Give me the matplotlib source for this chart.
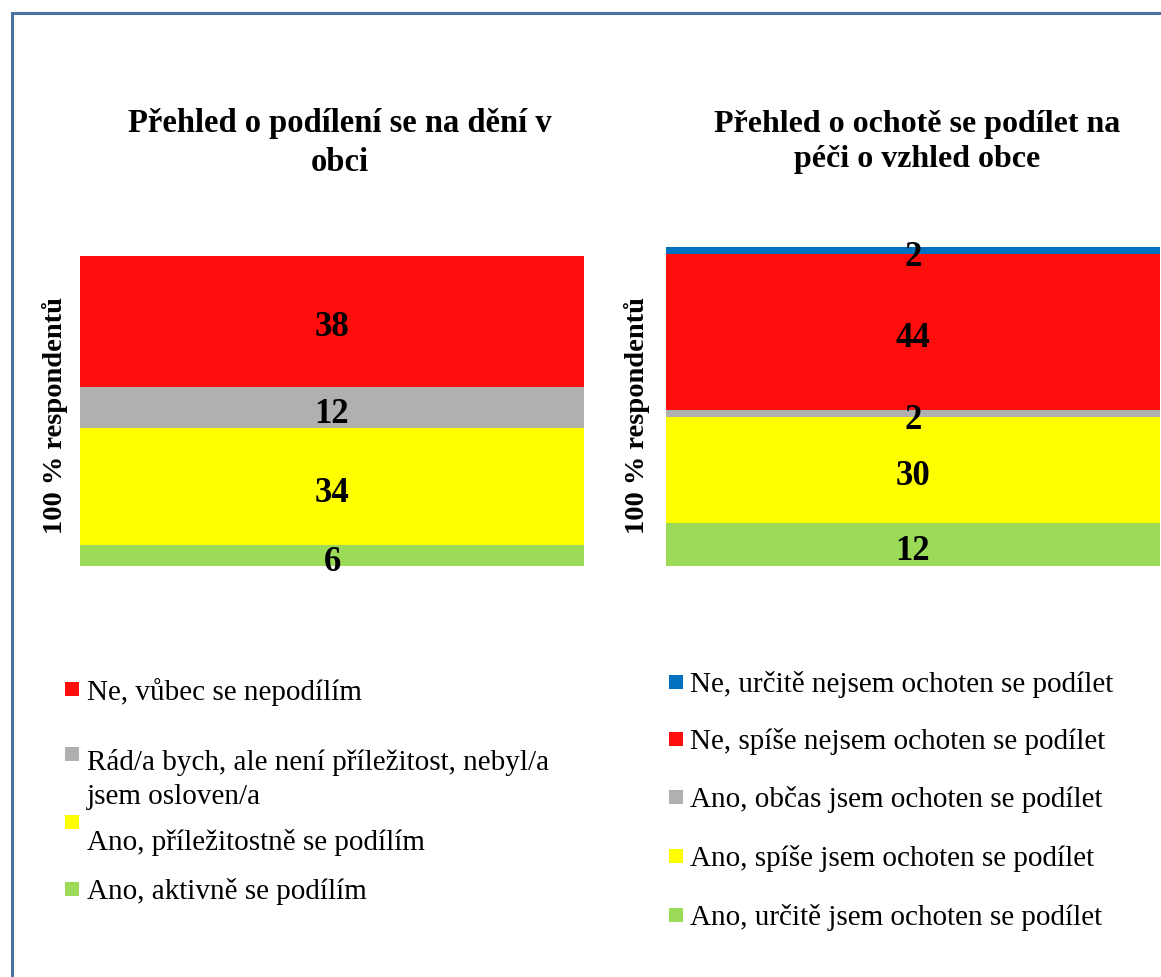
import matplotlib
matplotlib.use("Agg")
import matplotlib.pyplot as plt
from matplotlib.patches import Rectangle
from matplotlib.lines import Line2D

# ---- data ----
left_title = "Přehled o podílení se na dění v\nobci"
left_labels = ["Ano, aktivně se podílím",
               "Ano, příležitostně se podílím",
               "Rád/a bych, ale není příležitost, nebyl/a\njsem osloven/a",
               "Ne, vůbec se nepodílím"]
left_values = [6, 34, 12, 38]
left_colors = ["#9BDB58", "#FFFF00", "#B0B0B0", "#FF0D0D"]

right_title = "Přehled o ochotě se podílet na\npéči o vzhled obce"
right_labels = ["Ano, určitě jsem ochoten se podílet",
                "Ano, spíše jsem ochoten se podílet",
                "Ano, občas jsem ochoten se podílet",
                "Ne, spíše nejsem ochoten se podílet",
                "Ne, určitě nejsem ochoten se podílet"]
right_values = [12, 30, 2, 44, 2]
right_colors = ["#9BDB58", "#FFFF00", "#B0B0B0", "#FF0D0D", "#0070C0"]

ylabel = "100 % respondentů"

W, H = 1161, 978
fig = plt.figure(figsize=(W / 100, H / 100), dpi=100)
plt.rcParams['font.family'] = ['Liberation Serif', 'DejaVu Serif']

def fx(px):
    return px / W

def fy(py):
    return 1 - py / H

def stacked(ax, values, colors):
    bottom = 0
    for v, c in zip(values, colors):
        ax.bar(0, v, width=1.0, bottom=bottom, color=c, edgecolor='none')
        ax.annotate(str(v), xy=(0, bottom + v / 2), xytext=(0, -4),
                    textcoords='offset points', ha='center', va='center',
                    fontsize=25, fontweight='bold', color='black')
        bottom += v
    ax.set_xlim(-0.5, 0.5)
    ax.set_ylim(0, bottom)
    ax.axis('off')

axL = fig.add_axes([fx(80), fy(567), fx(584 - 80), (567 - 257) / H])
stacked(axL, left_values, left_colors)
axR = fig.add_axes([fx(666), fy(567), fx(1160 - 666), (567 - 248) / H])
stacked(axR, right_values, right_colors)

# titles
fig.text(fx(340), fy(143), left_title, ha='center', va='center',
         fontsize=23.5, fontweight='bold', linespacing=1.35)
fig.text(fx(917), fy(142), right_title, ha='center', va='center',
         fontsize=23, fontweight='bold', linespacing=1.3)

# y labels
fig.text(fx(55), fy(416), ylabel, rotation=90, ha='center', va='center',
         fontsize=20.5, fontweight='bold')
fig.text(fx(637), fy(416), ylabel, rotation=90, ha='center', va='center',
         fontsize=20.5, fontweight='bold')

# legends (drawn manually to follow reference layout)
def legend_item(x_marker, y_marker, x_text, y_text, color, text):
    fig.patches.append(Rectangle((fx(x_marker), fy(y_marker + 14)), fx(14), 14 / H,
                                 transform=fig.transFigure, facecolor=color,
                                 edgecolor='none'))
    fig.text(fx(x_text), fy(y_text), text, ha='left', va='center',
             fontsize=21, linespacing=1.4)

# left legend, top to bottom = reversed stack order
left_marker_y = [683, 748, 816, 883]
left_text_y = [692, 779, 843, 892]
for i, idx in enumerate(reversed(range(len(left_values)))):
    legend_item(65, left_marker_y[i], 87, left_text_y[i], left_colors[idx], left_labels[idx])

right_rows = [683, 740, 798, 857, 916]
for i, idx in enumerate(reversed(range(len(right_values)))):
    legend_item(669, right_rows[i] - 7, 690, right_rows[i] + 2, right_colors[idx], right_labels[idx])

# frame border (top and left visible)
border_col = "#4A72A3"
fig.add_artist(Line2D([fx(12), 1], [fy(14), fy(14)], transform=fig.transFigure,
                      color=border_col, linewidth=2.2))
fig.add_artist(Line2D([fx(12), fx(12)], [fy(14), 0], transform=fig.transFigure,
                      color=border_col, linewidth=2.2))

fig.savefig("out.png", dpi=100)
